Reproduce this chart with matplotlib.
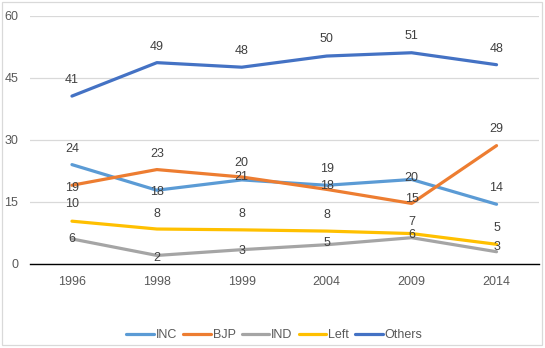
import matplotlib.pyplot as plt
from matplotlib.patches import Rectangle

plt.rcParams["font.family"] = ["Liberation Sans", "DejaVu Sans"]

years = ["1996", "1998", "1999", "2004", "2009", "2014"]
inc = [24.0, 17.8, 20.3, 19.0, 20.4, 14.4]
bjp = [19.0, 22.8, 21.0, 18.0, 14.6, 28.6]
ind = [6.0, 2.0, 3.4, 4.6, 6.3, 2.9]
left = [10.3, 8.4, 8.2, 7.9, 7.3, 4.7]
others = [40.6, 48.7, 47.6, 50.3, 51.1, 48.2]

series = [
    ("INC", inc, "#5B9BD5"),
    ("BJP", bjp, "#ED7D31"),
    ("IND", ind, "#A5A5A5"),
    ("Left", left, "#FFC000"),
    ("Others", others, "#4472C4"),
]

# vertical placement of each data label, in pixels above the point
label_dy = {
    "INC": [16, -2, 17, 16, 1, 16],
    "BJP": [-3, 16, 0, 3, 4, 17],
    "IND": [0, -3, -1, 2, 3, 5],
    "Left": [17, 15, 16, 16, 12, 16],
    "Others": [16, 16, 16, 17, 17, 16],
}

W, H = 545, 348
fig = plt.figure(figsize=(W / 100, H / 100), dpi=100)
ax = fig.add_axes([29.5 / W, (H - 263.7) / H, (539 - 29.5) / W, (263.7 - 16) / H])

x = list(range(len(years)))
for name, vals, color in series:
    ax.plot(x, vals, color=color, lw=2.3, label=name, solid_capstyle="round", zorder=3)
    for i, v in enumerate(vals):
        ax.annotate(f"{v:.0f}", (i, v), xytext=(0, label_dy[name][i] * 0.72),
                    textcoords="offset points", ha="center", va="center",
                    fontsize=9, color="#404040", zorder=4)

ax.set_xlim(-0.5, 5.5)
ax.set_ylim(0, 60)
ax.set_yticks([0, 15, 30, 45, 60])
ax.set_xticks(x)
ax.set_xticklabels(years)
ax.grid(axis="y", color="#d9d9d9", lw=0.9, zorder=0)
ax.tick_params(length=0, labelsize=9, labelcolor="#595959")
ax.tick_params(axis="x", pad=9)
ax.tick_params(axis="y", pad=8)
for s in ["top", "right", "left"]:
    ax.spines[s].set_visible(False)
ax.spines["bottom"].set_color("#000000")
ax.spines["bottom"].set_linewidth(1.0)

fig.legend(loc="center", bbox_to_anchor=(274.5 / W, 1 - 335 / H), ncol=5,
           frameon=False, fontsize=9, handlelength=2.2, handletextpad=0.15,
           columnspacing=0.5, labelcolor="#595959")

# light border round the chart
fig.patches.append(Rectangle((2 / W, 3 / H), 540 / W, 343 / H, transform=fig.transFigure,
                             fill=False, edgecolor="#d9d9d9", lw=0.9))

fig.savefig("out.png", dpi=100)
